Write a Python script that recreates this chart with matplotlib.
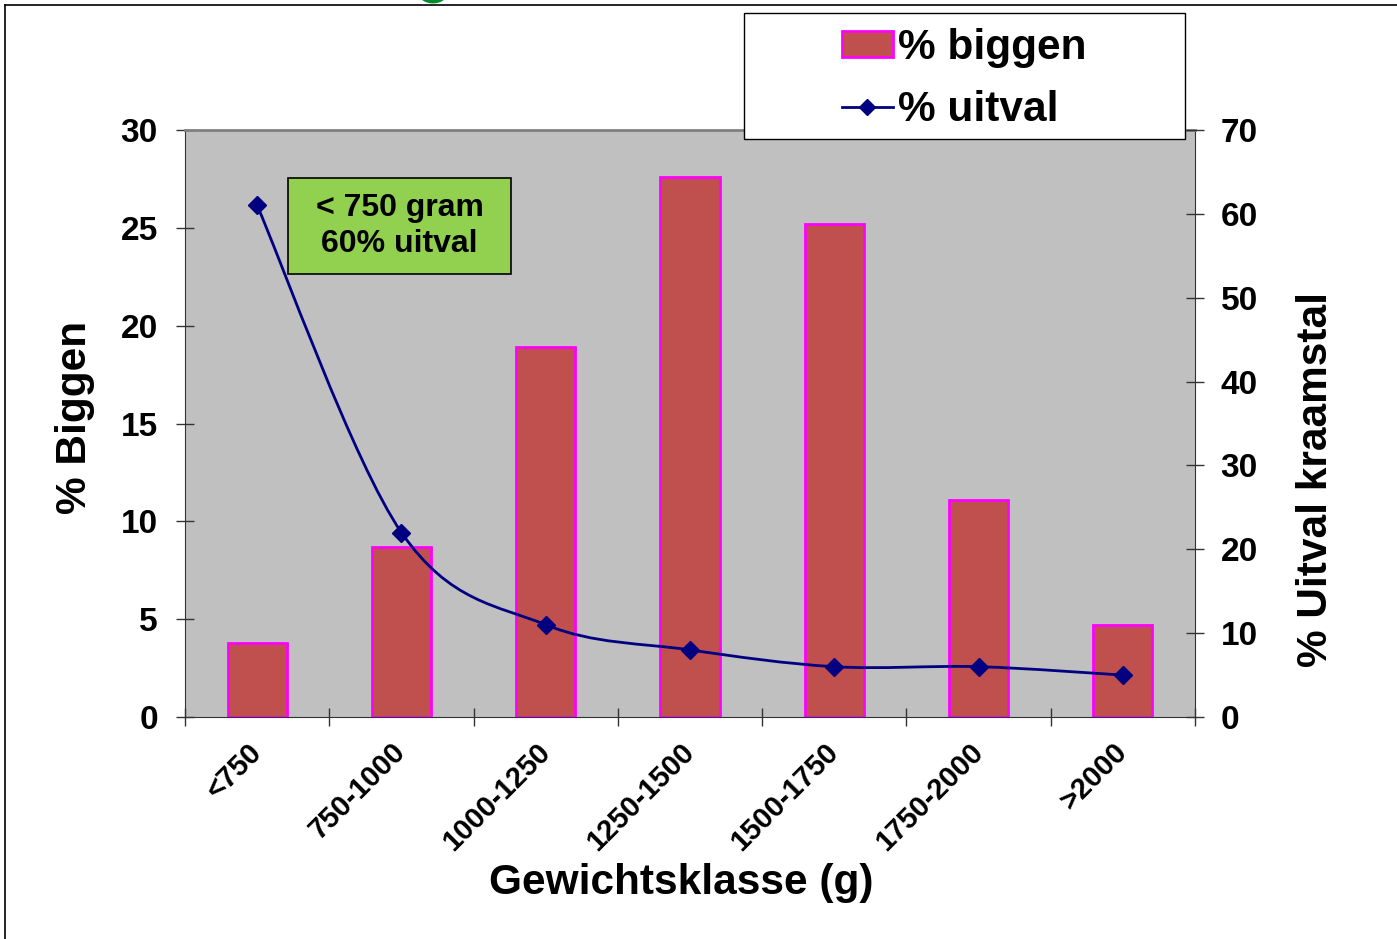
import numpy as np
import matplotlib
matplotlib.use("Agg")
import matplotlib.pyplot as plt
from matplotlib.path import Path
from matplotlib.patches import PathPatch, Rectangle, Circle
from matplotlib.lines import Line2D

plt.rcParams['font.family'] = ['Liberation Sans', 'DejaVu Sans']
plt.rcParams['font.weight'] = 'bold'

klassen = ['<750', '750-1000', '1000-1250', '1250-1500', '1500-1750', '1750-2000', '>2000']
pct_biggen = [3.8, 8.7, 18.9, 27.6, 25.2, 11.1, 4.7]
pct_uitval = [61, 22, 11, 8, 6, 6, 5]

W, H = 1397, 939
fig = plt.figure(figsize=(W / 100, H / 100), dpi=100)
ax = fig.add_axes([185 / W, 1 - 717 / H, 1010 / W, 587 / H])
ax.set_facecolor('#C0C0C0')

x = np.arange(len(klassen))
ax.bar(x, pct_biggen, width=0.41, color='#C0504D', edgecolor='#FF00FF', linewidth=2, zorder=2)
ax.set_xlim(-0.5, len(klassen) - 0.5)
ax.set_ylim(0, 30)
ax.set_yticks(range(0, 31, 5))

# ticks at category boundaries, labels at centres
ax.set_xticks(np.arange(-0.5, len(klassen), 1.0))
ax.set_xticklabels([])
ax.set_xticks(x, minor=True)
ax.set_xticklabels(klassen, minor=True, rotation=45, ha='right', va='center',
                   rotation_mode='anchor', fontsize=21, fontweight='bold')
ax.tick_params(axis='x', which='minor', length=0, pad=22)
ax.tick_params(axis='x', which='major', direction='inout', length=13, width=1, color='#333333')
ax.tick_params(axis='y', direction='inout', length=13, width=1, color='#333333',
               labelsize=24, pad=13)
for lab in ax.get_yticklabels():
    lab.set_fontweight('bold')

for s in ['left', 'bottom', 'right']:
    ax.spines[s].set_color('#333333')
ax.spines['top'].set_color('#808080')
ax.spines['top'].set_linewidth(2)

ax.set_ylabel('% Biggen', fontsize=30.5, fontweight='bold')
ax.yaxis.label.set_va('center')
ax.yaxis.set_label_coords(-0.109, 0.511)
ax.set_xlabel('Gewichtsklasse (g)', fontsize=30.5, fontweight='bold')
ax.xaxis.label.set_va('center')
ax.xaxis.set_label_coords(0.491, -0.283)

ax2 = ax.twinx()
ax2.set_ylim(0, 70)
ax2.set_yticks(range(0, 71, 10))
ax2.tick_params(axis='y', direction='inout', length=13, width=1, color='#333333',
                labelsize=24, pad=12)
for lab in ax2.get_yticklabels():
    lab.set_fontweight('bold')
for s in ['left', 'bottom', 'right', 'top']:
    ax2.spines[s].set_visible(False)
ax2.set_ylabel('% Uitval kraamstal', fontsize=30.5, fontweight='bold')
ax2.yaxis.label.set_va('center')
ax2.yaxis.set_label_coords(1.12, 0.404)

# smoothed line (Catmull-Rom as Bezier) through the data points
pts = np.column_stack([x, pct_uitval]).astype(float)
verts = [pts[0]]
codes = [Path.MOVETO]
n = len(pts)
for i in range(n - 1):
    p_prev = pts[max(i - 1, 0)]
    p0 = pts[i]
    p1 = pts[i + 1]
    p_next = pts[min(i + 2, n - 1)]
    c1 = p0 + (p1 - p_prev) / 6
    c2 = p1 - (p_next - p0) / 6
    verts += [c1, c2, p1]
    codes += [Path.CURVE4] * 3
ax2.add_patch(PathPatch(Path(verts, codes), facecolor='none', edgecolor='#000080', linewidth=2, zorder=3))
ax2.plot(x, pct_uitval, linestyle='none', marker='D', markersize=9, color='#000080', zorder=4)

# annotation box
ax.add_patch(Rectangle((0.102, 0.7547), 0.2208, 0.1635, transform=ax.transAxes,
                       facecolor='#92D050', edgecolor='black', linewidth=1.2, zorder=5))
ax.text(0.102 + 0.1104, 0.7547 + 0.0818, '< 750 gram\n60% uitval', transform=ax.transAxes,
        ha='center', va='center', fontsize=23, fontweight='bold', linespacing=1.3, zorder=6)

# legend with its own frame
fig.patches.append(Rectangle((744 / W, 1 - 139 / H), 441 / W, 126 / H, transform=fig.transFigure,
                             facecolor='white', edgecolor='black', linewidth=1, zorder=10))
handles = [Rectangle((0, 0), 1, 1, facecolor='#C0504D', edgecolor='#FF00FF', linewidth=2),
           Line2D([], [], color='#000080', linewidth=2, marker='D', markersize=8)]
leg = fig.legend(handles, ['% biggen', '% uitval'], loc='center',
                 bbox_to_anchor=(964 / W, 1 - 79 / H), frameon=False, fontsize=30.5,
                 handlelength=1.2, handleheight=0.56, handletextpad=0.12, labelspacing=0.52)
leg.set_zorder(11)
for t in leg.get_texts():
    t.set_fontweight('bold')

# figure border lines and green dot at the top
fig.add_artist(Line2D([5 / W, 5 / W], [0, 1 - 5 / H], color='black', linewidth=1.2, transform=fig.transFigure))
fig.add_artist(Line2D([5 / W, 1], [1 - 5 / H, 1 - 5 / H], color='black', linewidth=1.2, transform=fig.transFigure))
fig.patches.append(Circle((433 / W, 1 + 6 / H), 14 / W, transform=fig.transFigure,
                          facecolor='#008A2E', edgecolor='none'))

fig.savefig('out.png', dpi=100)
